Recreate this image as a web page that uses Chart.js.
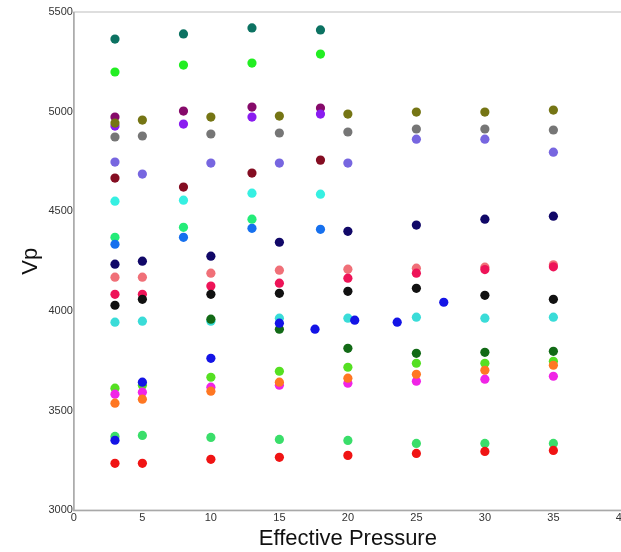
<!DOCTYPE html>
<html>
<head>
<meta charset="utf-8">
<script src="https://cdn.jsdelivr.net/npm/chart.js@4"></script>
<style>
  html, body { margin: 0; padding: 0; background: #fff; overflow: hidden; }
</style>
</head>
<body>
<canvas id="scatter-chart" width="629" height="552"></canvas>
<script>
// pressure steps used by the two groups of samples
var pressA = [3, 8, 13, 18];
var pressB = [3, 5, 10, 15, 20, 25, 30, 35];
var pressBlue = [3, 5, 10, 15, 17.6, 20.5, 23.6, 27];

// group A samples (Vp)
var tealVp    = [5364, 5390, 5420, 5410];
var limeVp    = [5199, 5234, 5244, 5289];
var purpleVp  = [4973, 5003, 5023, 5018];
var violetVp  = [4928, 4938, 4973, 4988];
var maroonVp  = [4667, 4622, 4692, 4757];
var cyanVp    = [4551, 4556, 4591, 4586];
var springVp  = [4370, 4420, 4461];
var dodgerVp  = [4335, 4370, 4415, 4410];

// group B samples (Vp)
var oliveVp   = [4943, 4958, 4973, 4978, 4988, 4998, 4998, 5008];
var greyVp    = [4873, 4878, 4888, 4893, 4898, 4913, 4913, 4908];
var slateVp   = [4747, 4687, 4742, 4742, 4742, 4862, 4862, 4797];
var navyVp    = [4235, 4250, 4275, 4345, 4400, 4431, 4461, 4476];
var salmonVp  = [4170, 4170, 4190, 4205, 4210, 4215, 4220, 4232];
var crimsonVp = [4084, 4084, 4125, 4140, 4165, 4190, 4208, 4222];
var blackVp   = [4029, 4059, 4084, 4089, 4099, 4114, 4079, 4059];
var turqVp    = [3944, 3949, 3949, 3964, 3964, 3969, 3964, 3969];
var dkgreenVp = [null, null, 3959, 3909, 3813, 3788, 3793, 3798];
var yelgrnVp  = [3613, 3628, 3668, 3698, 3718, 3738, 3738, 3748];
var magentaVp = [3583, 3593, 3618, 3628, 3638, 3648, 3658, 3673];
var orangeVp  = [3538, 3558, 3598, 3643, 3663, 3683, 3703, 3728];
var seaVp     = [3371, 3376, 3366, 3356, 3351, 3336, 3336, 3336];
var redVp     = [3236, 3236, 3256, 3266, 3276, 3286, 3296, 3301];
var blueVp    = [3352, 3643, 3763, 3939, 3909, 3954, 3944, 4044];

var xTicks = [0, 5, 10, 15, 20, 25, 30, 35, 40];
var yTicks = [3000, 3500, 4000, 4500, 5000, 5500];

function pts(xs, ys) {
	var out = [];
	for (var i = 0; i < ys.length; i++) {
		if (ys[i] !== null) out.push({x: xs[i], y: ys[i]});
	}
	return out;
}

function series(xs, ys, color) {
	return {
		data: pts(xs, ys),
		backgroundColor: color,
		borderColor: color,
		pointRadius: 4.6,
		pointHoverRadius: 4.6,
		borderWidth: 0,
		showLine: false
	};
}

// light frame around the plot area
var framePlugin = {
	id: 'frame',
	beforeDatasetsDraw: function(chart) {
		var a = chart.chartArea, c = chart.ctx;
		c.save();
		c.strokeStyle = '#d4d4d4';
		c.lineWidth = 1.5;
		c.strokeRect(a.left, a.top, a.right - a.left, a.bottom - a.top);
		c.strokeStyle = '#a8a8a8';
		c.beginPath();
		c.moveTo(a.left, a.top);
		c.lineTo(a.left, a.bottom);
		c.lineTo(a.right, a.bottom);
		c.stroke();
		c.restore();
	}
};

var ctx = document.getElementById('scatter-chart');

new Chart(ctx, {
	type: 'scatter',
	data: {
		datasets: [
			series(pressBlue, blueVp, '#1414e6'),
			series(pressB, redVp, '#f01414'),
			series(pressB, seaVp, '#3ade6a'),
			series(pressB, orangeVp, '#ff7722'),
			series(pressB, magentaVp, '#f024e6'),
			series(pressB, yelgrnVp, '#55e022'),
			series(pressB, dkgreenVp, '#126a16'),
			series(pressB, turqVp, '#3adcd8'),
			series(pressB, blackVp, '#111111'),
			series(pressB, crimsonVp, '#ee1458'),
			series(pressB, salmonVp, '#f07078'),
			series(pressB, navyVp, '#110868'),
			series(pressB, slateVp, '#7766e0'),
			series(pressB, greyVp, '#767676'),
			series(pressB, oliveVp, '#757514'),
			series(pressA, dodgerVp, '#1670ee'),
			series(pressA, springVp, '#24ec78'),
			series(pressA, cyanVp, '#36f0e2'),
			series(pressA, maroonVp, '#840d22'),
			series(pressA, violetVp, '#8a1cf0'),
			series(pressA, purpleVp, '#860a6a'),
			series(pressA, limeVp, '#22ee22'),
			series(pressA, tealVp, '#0c7262')
		]
	},
	options: {
		responsive: false,
		animation: false,
		events: [],
		layout: { padding: { top: 12, left: 3, right: 0, bottom: 0 } },
		plugins: {
			legend: { display: false },
			tooltip: { enabled: false }
		},
		scales: {
			x: {
				type: 'linear',
				min: 0,
				max: 40,
				afterBuildTicks: function(s) { s.ticks = xTicks.map(function(v) { return {value: v}; }); },
				grid: { display: false, drawTicks: false },
				border: { display: false },
				ticks: {
					color: '#333', padding: 1,
					font: { family: 'Liberation Sans', size: 11 },
					callback: function(v) { return String(v); }
				},
				title: {
					display: true,
					text: 'Effective Pressure',
					color: '#111',
					padding: { top: 0, bottom: 0 },
					font: { family: 'Liberation Sans', size: 22 }
				}
			},
			y: {
				type: 'linear',
				min: 3000,
				max: 5500,
				afterBuildTicks: function(s) { s.ticks = yTicks.map(function(v) { return {value: v}; }); },
				grid: { display: false, drawTicks: false },
				border: { display: false },
				ticks: {
					color: '#333', padding: 1,
					font: { family: 'Liberation Sans', size: 11 },
					callback: function(v) { return String(v); }
				},
				title: {
					display: true,
					text: 'Vp',
					color: '#111',
					padding: { top: 15, bottom: 3 },
					font: { family: 'Liberation Sans', size: 22 }
				}
			}
		}
	},
	plugins: [framePlugin]
});
</script>
</body>
</html>
